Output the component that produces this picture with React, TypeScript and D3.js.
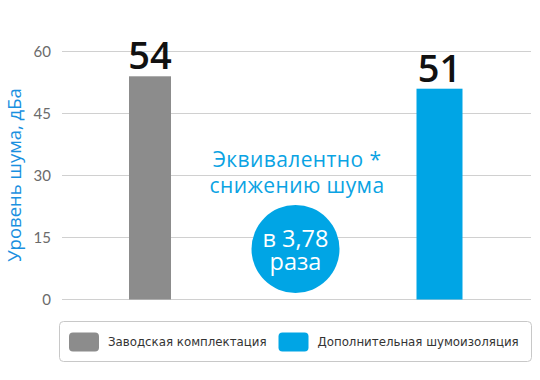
import React from "react";
import * as d3 from "d3";

const categories = ["Заводская комплектация", "Дополнительная шумоизоляция"];
const values = [54, 51];
const colors = ["#8c8c8c", "#00a5e5"];
const yTicks = [0, 15, 30, 45, 60];
const yTitle = "Уровень шума, дБа";
const noteLines = ["Эквивалентно *", "снижению шума"];
const circleLines = ["в 3,78", "раза"];

const W = 540;
const H = 380;

export default function App() {
  const y = d3.scaleLinear().domain([0, 60]).range([299.5, 51.5]);
  const barW = [42, 46];
  const centers = [150, 439.5];

  return (
    <svg width={W} height={H} style={{ position: "absolute", left: 0, top: 0 }}>
      <rect width={W} height={H} fill="#fff" />
      {yTicks.map((t) => (
        <g key={t}>
          <line x1={62} x2={531} y1={y(t)} y2={y(t)} stroke="#d0d0d0" strokeWidth={1.2} />
          <text x={51} y={y(t)} dy="0.35em" textAnchor="end" fontFamily="Lato" fontSize={15} fill="#6b6b6b">
            {t}
          </text>
        </g>
      ))}
      <text
        transform={`translate(21,175) rotate(-90)`}
        textAnchor="middle"
        fontFamily="'Open Sans'"
        fontSize={18.5}
        fill="#1a90e0"
      >
        {yTitle}
      </text>
      {values.map((v, i) => (
        <g key={i}>
          <rect
            x={centers[i] - barW[i] / 2}
            y={y(v)}
            width={barW[i]}
            height={y(0) - y(v)}
            fill={colors[i]}
          />
          <text
            x={centers[i]}
            y={y(v) - 7}
            textAnchor="middle"
            fontFamily="'Open Sans'"
            fontWeight={600}
            fontSize={38}
            fill="#111"
          >
            {v}
          </text>
        </g>
      ))}
      {noteLines.map((l, i) => (
        <text key={l} x={297} y={167 + i * 26} textAnchor="middle" fontFamily="'Open Sans'" fontSize={21} letterSpacing={0.4} fill="#0aa3e3">
          {l}
        </text>
      ))}
      <circle cx={295.5} cy={249} r={44} fill="#00a5e5" />
      {circleLines.map((l, i) => (
        <text key={l} x={295.5} y={246.5 + i * 23} textAnchor="middle" fontFamily="'Open Sans'" fontSize={23.5} fill="#fff">
          {l}
        </text>
      ))}
      <rect x={59.5} y={321.5} width={472} height={40} rx={4} fill="#fff" stroke="#c8c8c8" />
      {categories.map((c, i) => {
        const sx = [69, 278.5][i];
        return (
          <g key={c}>
            <rect x={sx} y={332.5} width={30} height={19} rx={4} fill={colors[i]} />
            <text x={sx + 39} y={346} fontFamily="'DejaVu Sans'" fontSize={11.8} fill="#333">
              {c}
            </text>
          </g>
        );
      })}
    </svg>
  );
}
